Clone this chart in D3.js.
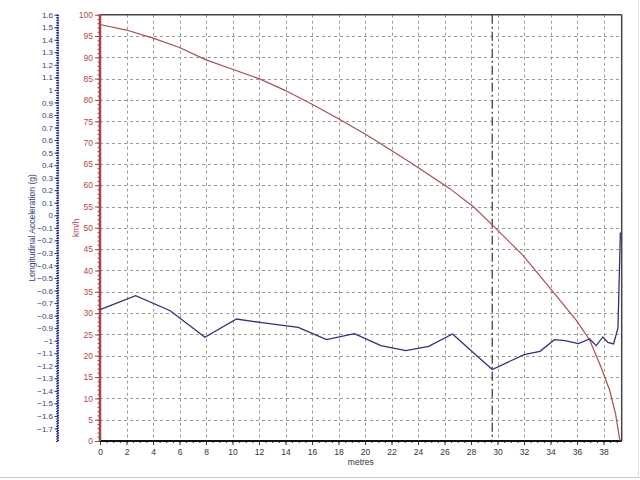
<!DOCTYPE html>
<html><head><meta charset="utf-8">
<script src="https://cdn.jsdelivr.net/npm/d3@7"></script>
<style>body{margin:0;background:#fff;} svg{display:block;font-family:"Liberation Sans",Arial,sans-serif;}</style>
</head><body>
<svg id="c" width="640" height="480"></svg>
<script>
const speedMetres = [0,2,4,6,8,10,12,14,16,18,20,21.1,23.6,26.4,28.2,29.7,31.9,33.9,35.95,36.95,37.8,38.46,38.9,39.2,39.27];
const speedKmh    = [97.7,96.4,94.5,92.3,89.4,87.2,85,82.2,79,75.6,72,69.9,65,59.2,54.9,50.4,43.6,36.1,28.3,23.7,17.4,11.9,6.5,0.7,0];
const accMetres = [0,2.69,5.3,7.92,10.3,12.07,14.96,17.1,19.2,20.36,21.2,23.08,24.8,26.6,29.6,32.0,33.2,34.3,35.1,36.1,36.95,37.45,37.95,38.33,38.76,39.09,39.27];
const accG      = [-0.753,-0.641,-0.761,-0.973,-0.827,-0.854,-0.894,-0.992,-0.944,-1.0,-1.039,-1.079,-1.045,-0.946,-1.230,-1.111,-1.085,-0.992,-1.0,-1.023,-0.986,-1.039,-0.97,-1.013,-1.026,-0.898,-0.137];
const xTicks = d3.range(0, 39, 2);
const speedTicks = d3.range(0, 101, 5);
const gTicks = d3.range(-17, 17, 1).map(v => v/10);
const markerMetres = 29.6;

const svg = d3.select("#c");
const L = 100, R = 621.7, T = 14.7, B = 441;
const FS = "8.5px";
const x = d3.scaleLinear().domain([0, 39.37]).range([L, R]);
const yS = d3.scaleLinear().domain([0, 100]).range([B, T]);
const yG = d3.scaleLinear().domain([-1.8, 1.6]).range([B, T]);

// window frame
svg.append("line").attr("x1",0).attr("x2",640).attr("y1",477.5).attr("y2",477.5).attr("stroke","#c8c8c8");
svg.append("line").attr("x1",638.5).attr("x2",638.5).attr("y1",0).attr("y2",478).attr("stroke","#e0e0e0");

// grid
const grid = svg.append("g").attr("stroke","#9a9a9a").attr("stroke-dasharray","3,3").attr("stroke-width",1);
speedTicks.filter(v => v>0 && v<100).forEach(v => {
  grid.append("line").attr("x1",L).attr("x2",R).attr("y1",Math.round(yS(v))+0.5).attr("y2",Math.round(yS(v))+0.5);
});
xTicks.filter(v => v>0).forEach(v => {
  grid.append("line").attr("x1",Math.round(x(v))+0.5).attr("x2",Math.round(x(v))+0.5).attr("y1",T).attr("y2",B);
});

// frame top/right
svg.append("line").attr("x1",L).attr("x2",R).attr("y1",T).attr("y2",T).attr("stroke","#444").attr("stroke-width",1.5);
svg.append("line").attr("x1",R).attr("x2",R).attr("y1",T).attr("y2",B).attr("stroke","#444").attr("stroke-width",1.5);

// marker line
svg.append("line").attr("x1",x(markerMetres)).attr("x2",x(markerMetres)).attr("y1",T).attr("y2",B)
  .attr("stroke","#333").attr("stroke-width",1.2).attr("stroke-dasharray","9,3,2,3");

// x axis
const xAxis = d3.axisBottom(x).tickValues(xTicks).tickSize(4).tickPadding(4).tickFormat(d3.format("d"));
const gx = svg.append("g").attr("transform",`translate(0,${B})`).call(xAxis);
gx.select(".domain").remove();
gx.selectAll("text").attr("fill","#333").style("font-size",FS);
gx.selectAll("line").attr("stroke","#333");
const xMinor = d3.axisBottom(x).tickValues(d3.range(0,39.3,0.5)).tickSize(2).tickFormat("");
const gxm = svg.append("g").attr("transform",`translate(0,${B})`).call(xMinor);
gxm.select(".domain").remove(); gxm.selectAll("line").attr("stroke","#333");
svg.append("line").attr("x1",L).attr("x2",R).attr("y1",B).attr("y2",B).attr("stroke","#111").attr("stroke-width",2);

// speed axis (red)
const red = "#a04848";
const sAxis = d3.axisLeft(yS).tickValues(speedTicks).tickSize(5).tickPadding(2);
const gs = svg.append("g").attr("transform",`translate(${L},0)`).call(sAxis);
gs.select(".domain").remove();
gs.selectAll("text").attr("fill","#b04a4a").style("font-size",FS);
gs.selectAll("line").attr("stroke",red);
const sMinor = d3.axisLeft(yS).tickValues(d3.range(0,101,1)).tickSize(2.5).tickFormat("");
const gsm = svg.append("g").attr("transform",`translate(${L},0)`).call(sMinor);
gsm.select(".domain").remove(); gsm.selectAll("line").attr("stroke",red);
svg.append("line").attr("x1",L).attr("x2",L).attr("y1",T).attr("y2",B).attr("stroke",red).attr("stroke-width",2.5);

// accel axis (blue)
const blue = "#2a2a80";
const AX = 58;
const gAxis = d3.axisLeft(yG).tickValues(gTicks).tickSize(3.5).tickPadding(1.5).tickFormat(d => d3.format("")(+d.toFixed(1)));
const gg = svg.append("g").attr("transform",`translate(${AX},0)`).call(gAxis);
gg.select(".domain").remove();
gg.selectAll("text").attr("fill","#3a3a7a").style("font-size","8px");
gg.selectAll("line").attr("stroke",blue);
const gMinor = d3.axisLeft(yG).tickValues(d3.range(-90,81,1).map(v=>v/50)).tickSize(2).tickFormat("");
const ggm = svg.append("g").attr("transform",`translate(${AX},0)`).call(gMinor);
ggm.select(".domain").remove(); ggm.selectAll("line").attr("stroke",blue);
svg.append("line").attr("x1",AX).attr("x2",AX).attr("y1",T).attr("y2",B).attr("stroke","#2020a0").attr("stroke-width",2).attr("stroke-dasharray","1.5,1");

// titles
svg.append("text").attr("transform",`translate(35,${(T+B)/2}) rotate(-90)`).attr("text-anchor","middle")
  .attr("fill","#3a3a7a").style("font-size",FS).text("Longitudinal Acceleration (g)");
svg.append("text").attr("transform",`translate(79,${(T+B)/2}) rotate(-90)`).attr("text-anchor","middle")
  .attr("fill","#b04a4a").style("font-size",FS).text("km/h");
svg.append("text").attr("x",(L+R)/2).attr("y",465).attr("text-anchor","middle")
  .attr("fill","#333").style("font-size",FS).text("metres");

// series
const speedLine = d3.line().x((d,i)=>x(speedMetres[i])).y(d=>yS(d));
svg.append("path").attr("d",speedLine(speedKmh)).attr("fill","none").attr("stroke","#a85050").attr("stroke-width",1.2);
const accLine = d3.line().x((d,i)=>x(accMetres[i])).y(d=>yG(d));
svg.append("path").attr("d",accLine(accG)).attr("fill","none").attr("stroke","#30307a").attr("stroke-width",1.3);
</script>
</body></html>
